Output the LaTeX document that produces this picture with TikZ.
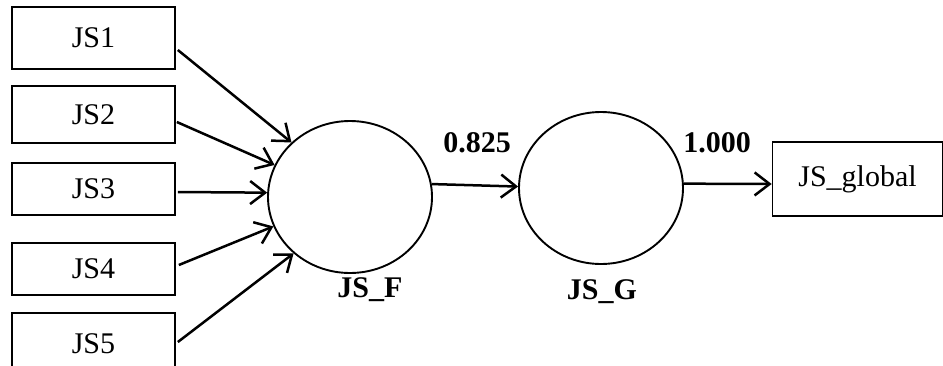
\documentclass[tikz,border=0pt]{standalone}
\usepackage{fontspec}
\setmainfont{Liberation Serif}
\usetikzlibrary{arrows.meta,shapes.geometric}
\begin{document}
\begin{tikzpicture}[x=1pt,y=-1pt,
  box/.style={draw,line width=1.7pt,minimum width=163pt,inner sep=0pt,font=\fontsize{30}{34}\selectfont},
  lv/.style={draw,ellipse,line width=1.9pt,minimum width=164pt,minimum height=152pt,inner sep=0pt},
  lab/.style={font=\fontsize{30}{34}\selectfont\bfseries},
  arr/.style={line width=2.5pt,-{Straight Barb[length=15pt,width=23pt,line width=2.5pt]}}]
\useasboundingbox (0,0) rectangle (943,365);
\node[box,minimum height=62pt] (js1) at (93.5,38) {JS1};
\node[box,minimum height=57pt] (js2) at (93.5,114.5) {JS2};
\node[box,minimum height=52pt] (js3) at (93.5,189) {JS3};
\node[box,minimum height=52pt] (js4) at (93.5,269) {JS4};
\node[box,minimum height=62pt,text depth=0pt] (js5) at (93.5,344) {JS5};
\node[box,minimum width=170pt,minimum height=74pt] (glob) at (857.5,179) {JS\_global};
\node[lv] (jsf) at (350,197) {};
\node[lv] (jsg) at (601,188) {};
\node[lab] (lf) at (370,290) {JS\_F};
\node[lab] (lg) at (602,292) {JS\_G};
\node[lab] (l1) at (477,143) {0.825};
\node[lab] (l2) at (717,143) {1.000};
\draw[arr] ([xshift=2pt,yshift=-12pt]js1.east) -- (jsf.137);
\draw[arr] ([xshift=1pt,yshift=-7.5pt]js2.east) -- (jsf.157);
\draw[arr] ([xshift=2pt,yshift=-3pt]js3.east) -- (jsf.177);
\draw[arr] ([xshift=3pt,yshift=4pt]js4.east) -- (jsf.201);
\draw[arr] ([xshift=2pt,yshift=2pt]js5.east) -- (jsf.225);
\draw[arr] (jsf.9) -- (jsg.179);
\draw[arr] (jsg.3) -- ([yshift=-5pt]glob.west);
\end{tikzpicture}
\end{document}
